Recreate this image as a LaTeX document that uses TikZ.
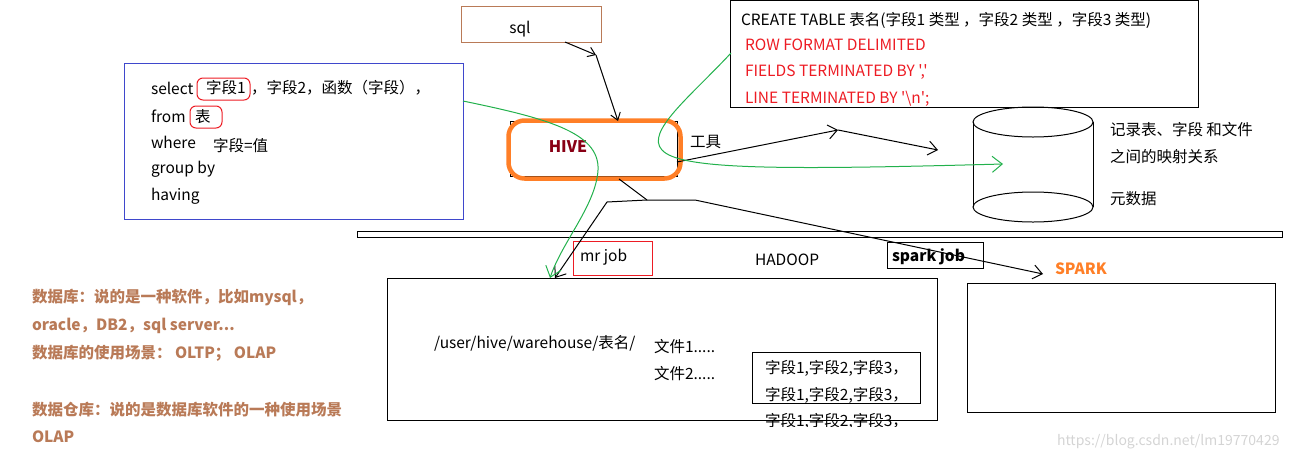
\documentclass[tikz,border=0pt]{standalone}
\usepackage{fontspec}
\setmainfont{Noto Sans CJK SC}[Ligatures=TeXOff]
\usetikzlibrary{arrows.meta}
\definecolor{pbrown}{RGB}{185,122,87}
\definecolor{pred}{RGB}{237,28,36}
\definecolor{porange}{RGB}{255,127,39}
\definecolor{pdarkred}{RGB}{136,0,21}
\definecolor{pgreen}{RGB}{34,177,76}
\definecolor{pblue}{RGB}{63,72,204}
\definecolor{wmgray}{RGB}{212,212,212}
\begin{document}
\begin{tikzpicture}[x=1pt,y=-1pt,
  every node/.style={inner sep=0pt,outer sep=0pt},
  rectbox/.style={draw,anchor=north west,line width=1pt},
  txt/.style={anchor=west,font=\fontsize{15.5}{18}\selectfont},
  redtxt/.style={txt,text=pred},
  browntxt/.style={txt,text=pbrown,font=\fontsize{15.5}{18}\selectfont\bfseries},
  redround/.style={draw=pred,line width=1pt,rounded corners=6pt,anchor=north west},
  arr/.style={line width=1pt,-{Straight Barb[length=9pt,width=14pt]}},
  arrs/.style={line width=1pt,-{Straight Barb[length=7pt,width=10pt]}},
  plain/.style={line width=1pt},
  garr/.style={draw=pgreen,line width=1pt,-{Straight Barb[length=10pt,width=16pt]}}]
\useasboundingbox (0,0) rectangle (1292,461);

% boxes
\node[rectbox,draw=pbrown,minimum width=140pt,minimum height=36pt] (sql) at (461,6) {};
\node[txt,anchor=center] (sqlt) at (520,29) {sql};

\node[rectbox,draw=pblue,minimum width=339pt,minimum height=156pt] (query) at (124,63) {};
\node[redround,minimum width=53pt,minimum height=22pt] (f1box) at (197,78) {};
\node[redround,minimum width=32pt,minimum height=22pt] (tblbox) at (190,106) {};
\node[txt] (q1) at (151,88) {select};
\node[txt] (q1a) at (206,88) {字段1};
\node[txt] (q1b) at (251,88) {，字段2，函数（字段），};
\node[txt] (q2) at (151,116) {from};
\node[txt] (q2a) at (195,117) {表};
\node[txt] (q3) at (151,142) {where};
\node[txt] (q3a) at (213,146) {字段=值};
\node[txt] (q4) at (151,169) {group by};
\node[txt] (q5) at (151,196) {having};

\node[rectbox,minimum width=468pt,minimum height=107pt] (create) at (730,0.5) {};
\node[txt] (c1) at (741,20) {CREATE TABLE 表名(字段1 类型 ，字段2 类型 ，字段3 类型)};
\node[redtxt] (c2) at (745,45) {ROW FORMAT DELIMITED};
\node[redtxt] (c3) at (745,72) {FIELDS TERMINATED BY ','};
\node[redtxt] (c4) at (745,99) {LINE TERMINATED BY '\textbackslash n';};

% HIVE
\node[rectbox,minimum width=167pt,minimum height=55pt] (hiveblack) at (510,121) {};
\node[draw=porange,line width=4.5pt,rounded corners=16pt,anchor=north west,minimum width=172pt,minimum height=58pt] (hive) at (508.5,120.5) {};
\node[anchor=center,font=\fontsize{16}{18}\selectfont\bfseries,text=pdarkred] (hivet) at (568,147) {HIVE};
\node[txt] (tool) at (690,142) {工具};

% metadata cylinder
\draw[plain] (973,122) -- (973,207) (1093,122) -- (1093,207);
\draw[plain] (1033,122) ellipse [x radius=60,y radius=15];
\draw[plain] (1033,207) ellipse [x radius=60,y radius=15];
\node[txt] (m1) at (1110,130) {记录表、字段 和文件};
\node[txt] (m2) at (1110,157) {之间的映射关系};
\node[txt] (m3) at (1110,199) {元数据};

% separator bar
\node[rectbox,minimum width=925pt,minimum height=6pt] (bar) at (357,231) {};

% hadoop
\node[rectbox,draw=pred,minimum width=79pt,minimum height=34pt] (mrjob) at (573,241) {};
\node[txt] (mrjobt) at (580,257) {mr job};
\node[txt] (hadoop) at (755,260) {HADOOP};
\node[rectbox,minimum width=96pt,minimum height=26pt] (sparkjob) at (887,242) {};
\node[txt,font=\fontsize{15.5}{18}\selectfont\bfseries] (sparkjobt) at (892,257) {spark job};
\node[txt,font=\fontsize{15.5}{18}\selectfont\bfseries,text=porange] (sparkt) at (1055,269) {SPARK};

\node[rectbox,minimum width=550pt,minimum height=142pt] (hdfs) at (387,278) {};
\node[rectbox,minimum width=308pt,minimum height=129pt] (spark) at (967,283) {};
\node[txt] (path) at (434,343) {/user/hive/warehouse/表名/};
\node[txt] (file1) at (654,347) {文件1.....};
\node[txt] (file2) at (654,374) {文件2.....};
\node[rectbox,minimum width=168pt,minimum height=51pt] (rows) at (752,352) {};
\node[txt] (r1) at (765,368) {字段1,字段2,字段3，};
\node[txt] (r2) at (765,395) {字段1,字段2,字段3，};
\begin{scope}
\clip (700,405) rectangle (1000,426);
\node[txt] (r3) at (765,421) {字段1,字段2,字段3，};
\end{scope}

% left notes
\node[browntxt] (n1) at (32,298) {数据库：说的是一种软件，比如mysql，};
\node[browntxt] (n2) at (32,326) {oracle，DB2，sql server...};
\node[browntxt] (n3) at (32,353) {数据库的使用场景： OLTP； OLAP};
\node[browntxt] (n4) at (32,410) {数据仓库：说的是数据库软件的一种使用场景};
\node[browntxt] (n5) at (32,437) {OLAP};

% connectors
\coordinate (sqlout) at (565,42);
\coordinate (sqlmid) at (596,55);
\coordinate (hivetop) at (618,121);
\draw[arrs] (sqlout) -- (sqlmid);
\draw[arrs] (sqlmid) -- (hivetop);

\coordinate (hiveR) at (677,162);
\coordinate (tmid) at (838,130);
\coordinate (cylin) at (938,150);
\draw[arr] (hiveR) -- (tmid);
\draw[arr] (tmid) -- (cylin);

\coordinate (hivebot) at (619,179);
\coordinate (j1) at (647,200);
\coordinate (j2) at (607,202);
\coordinate (j3) at (695,200);
\coordinate (mrend) at (555,278);
\coordinate (sparkend) at (1043,274);
\draw[plain] (hivebot) -- (j1);
\draw[arr] (j1) -- (j2) -- (mrend);
\draw[arr] (j1) -- (j3) -- (sparkend);

\coordinate (g1s) at (463,101);
\coordinate (g1m) at (598,170);
\coordinate (g1e) at (550,278);
\draw[garr] (g1s) .. controls (545,118) and (600,132) .. (g1m) .. controls (596,205) and (562,242) .. (g1e);

\coordinate (g2s) at (731,53);
\coordinate (g2m) at (662,150);
\coordinate (g2e) at (1003,164);
\draw[garr] (g2s) .. controls (690,97) and (645,132) .. (g2m) .. controls (680,170) and (780,170) .. (g2e);

% watermark
\node[txt,text=wmgray,font=\fontsize{14}{17}\selectfont] (wm) at (1057,442) {https://blog.csdn.net/lm19770429};
\end{tikzpicture}
\end{document}
